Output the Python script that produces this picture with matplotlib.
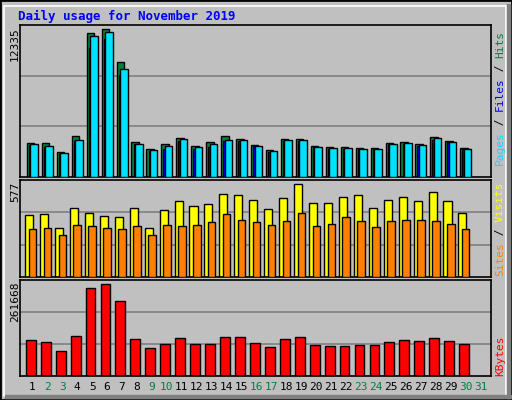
import matplotlib
matplotlib.use("Agg")
import matplotlib.pyplot as plt
from matplotlib.patches import Rectangle
import numpy as np

days = list(range(1, 32))
weekend = [2, 3, 9, 10, 16, 17, 23, 24, 30, 31]
hits = [2735, 2735, 2000, 3330, 11660, 11985, 9330, 2840, 2250, 2650, 3165, 2515, 2840, 3330, 3060, 2600,
        2190, 3080, 3080, 2515, 2435, 2435, 2350, 2350, 2760, 2840, 2680, 3245, 2920, 2350]
files = [2650, 2520, 1950, 3000, 11425, 11800, 8800, 2700, 2200, 2500, 3080, 2400, 2650, 3000, 2975, 2550,
         2100, 3000, 3000, 2450, 2350, 2350, 2280, 2280, 2700, 2760, 2600, 3150, 2850, 2280]
pages = [2600, 2450, 1900, 2900, 10500, 11200, 8300, 2650, 2150, 2300, 2950, 2300, 2400, 2900, 2950, 2500,
         2050, 2900, 2950, 2400, 2300, 2300, 2250, 2250, 2650, 2700, 2550, 3000, 2800, 2250]
visits = [368, 374, 294, 408, 378, 360, 354, 408, 294, 396, 450, 422, 434, 493, 487, 456,
          402, 468, 553, 438, 438, 474, 487, 408, 456, 474, 450, 503, 450, 378]
sites = [283, 289, 247, 312, 306, 289, 283, 306, 247, 312, 306, 312, 330, 372, 342, 330,
         312, 336, 378, 306, 318, 354, 336, 300, 336, 342, 342, 336, 318, 283]
kbytes = [97300, 91800, 67000, 108300, 240500, 251500, 204700, 100100, 75300, 86300, 102800, 86300, 86300,
          105600, 105600, 89000, 78000, 100100, 105600, 83500, 80800, 80800, 83500, 83500, 91800, 97300,
          94600, 102800, 94600, 86300]
max_hits, max_visits, max_kb = 12335, 577, 261668

W, H = 512, 400
fig = plt.figure(figsize=(W/100, H/100), dpi=100, facecolor="#C0C0C0")
mono = "DejaVu Sans Mono"

fig.patches.append(Rectangle((0, 0), 1, 1, transform=fig.transFigure, fill=False, ec="black", lw=2))
fig.patches.append(Rectangle((4/W, 4/H), 1-10/W, 1-10/H, transform=fig.transFigure, fill=False, ec="white", lw=1.2))
fig.patches.append(Rectangle((5/W, 2/H), 1-6/W, 3/H, transform=fig.transFigure, color="#808080"))
fig.patches.append(Rectangle((1-5/W, 2/H), 3/W, 1-6/H, transform=fig.transFigure, color="#808080"))

def ax_at(x0, y0, x1, y1):
    return fig.add_axes([x0/W, 1-y1/H, (x1-x0)/W, (y1-y0)/H])

xl = (0.17, 31.69)
n = len(hits)
x = np.arange(1, n+1)

def style(ax, ymax):
    ax.set_facecolor("#C0C0C0")
    ax.set_xlim(*xl)
    ax.set_ylim(0, ymax)
    ax.set_xticks([]); ax.set_yticks([])
    for f in (1/3, 2/3):
        ax.axhline(ymax*f, color="#808080", lw=1.2, zorder=0)
    for s in ax.spines.values():
        s.set_color("black"); s.set_linewidth(1.2)

a1 = ax_at(20, 25, 491, 177)
style(a1, max_hits)
a1.bar(x-0.12, hits, width=0.5, color="#008040", ec="black", lw=1, zorder=2)
a1.bar(x+0.02, pages, width=0.5, color="#0000FF", ec="black", lw=0.8, zorder=3)
a1.bar(x+0.12, files, width=0.5, color="#00E0FF", ec="black", lw=1, zorder=4)

a2 = ax_at(20, 180, 491, 277)
style(a2, max_visits)
a2.bar(x-0.22, visits, width=0.54, color="#FFFF00", ec="black", lw=1, zorder=2)
a2.bar(x+0.0, sites, width=0.5, color="#FF8000", ec="black", lw=1, zorder=3)

a3 = ax_at(20, 280, 491, 376)
style(a3, max_kb)
a3.bar(x-0.11, kbytes, width=0.66, color="#FF0000", ec="black", lw=1, zorder=2)

for d in days:
    a3.text(d, -0.06, str(d), transform=a3.get_xaxis_transform(), ha="center", va="top",
            fontsize=8, family=mono, color="#008040" if d in weekend else "black")

fig.text(18/W, 1-16/H, "Daily usage for November 2019", color="#0000FF", fontsize=9,
         family=mono, fontweight="bold", va="center", ha="left")

for txt, ytop in (("12335", 27), ("577", 182), ("261668", 282)):
    fig.text(15/W, 1-ytop/H, txt, rotation=90, ha="center", va="top", fontsize=8, family=mono)

CH = 6.7  # pixels per character at 8pt mono
def vlabel(parts, ybottom):
    y = ybottom
    for t, c in parts:
        fig.text(500/W, 1-y/H, t, rotation=90, ha="center", va="bottom", fontsize=8,
                 family=mono, color=c, rotation_mode="anchor" if False else "default")
        y -= len(t) * CH

vlabel([("Pages", "#00E0FF"), (" / ", "black"), ("Files", "#0000FF"), (" / ", "black"), ("Hits", "#008040")], 165)
vlabel([("Sites", "#FF8000"), (" / ", "black"), ("Visits", "#FFFF00")], 276)
vlabel([("KBytes", "#FF0000")], 376)

fig.savefig("out.png", dpi=100, facecolor=fig.get_facecolor())
